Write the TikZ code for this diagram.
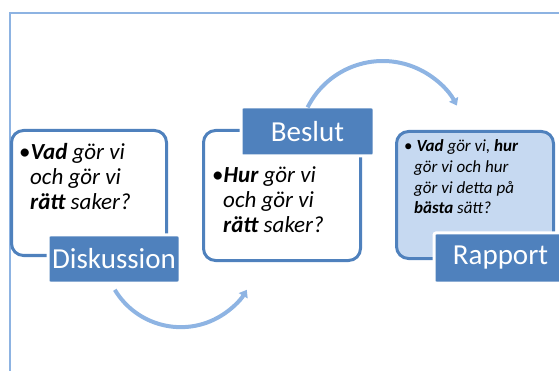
\documentclass[tikz,border=0pt]{standalone}
\usepackage{fontspec}
\setmainfont{Carlito}
\usetikzlibrary{arrows.meta}
\definecolor{dblue}{HTML}{4F81BD}
\definecolor{lblue}{HTML}{8EB4E3}
\definecolor{pfill}{HTML}{C6D9F1}
\definecolor{frameblue}{HTML}{8DB3E2}
\newcommand{\bitext}[1]{{\bfseries\itshape #1}}
\newcommand{\ittext}[1]{{\itshape #1}}
\tikzset{
  textbox/.style={draw=dblue, line width=3pt, rounded corners=12pt},
  labelbox/.style={fill=dblue, draw=white, line width=3pt, rounded corners=2pt,
    text=white, font=\fontsize{29}{32}\selectfont, inner sep=0pt},
  bodytext/.style={anchor=base west, inner sep=0pt, align=left},
  flowarrow/.style={draw=lblue, line width=4pt, -{Triangle[length=7pt,width=10pt]}},
}
\begin{document}
\begin{tikzpicture}[x=1pt,y=-1pt]
\useasboundingbox (0,0) rectangle (559,371);
% frame
\draw[frameblue, line width=1.5pt] (10,371) -- (10,13) -- (559,13);
% text boxes
\draw[textbox] (11.5,130.5) rectangle (166.5,255.5);
\draw[textbox] (203.5,130.5) rectangle (360.5,260.5);
\draw[textbox, fill=pfill] (396.5,131.5) rectangle (553.5,258.5);
% body texts (base anchor = last line)
\node[bodytext, font=\fontsize{23}{25}\selectfont] (t1) at (19,210)
  {•\bitext{Vad} \ittext{gör vi}\\\hspace{11pt}\ittext{och gör vi}\\\hspace{11pt}\bitext{rätt} \ittext{saker?}};
\node[bodytext, font=\fontsize{23}{25}\selectfont] (t2) at (212,233)
  {•\bitext{Hur} \ittext{gör vi}\\\hspace{11pt}\ittext{och gör vi}\\\hspace{11pt}\bitext{rätt} \ittext{saker?}};
\node[bodytext, font=\fontsize{17}{20.7}\selectfont] (t3) at (404,214)
  {• \bitext{Vad} \ittext{gör vi,} \bitext{hur}\\\hspace{10pt}\ittext{gör vi och hur}\\\hspace{10pt}\ittext{gör vi detta på}\\\hspace{10pt}\bitext{bästa} \ittext{sätt?}};
% labels
\node[labelbox, minimum width=132pt, minimum height=48pt] (l1) at (114,259) {Diskussion};
\node[labelbox, minimum width=133pt, minimum height=49pt] (l2) at (307.5,131.5) {Beslut};
\node[labelbox, minimum width=133pt, minimum height=50pt] (l3) at (500.5,258) {Rapport};
% arrows
\coordinate (a1s) at (114.8,289.8);
\coordinate (a2s) at (307.6,107.4);
\draw[flowarrow] (a1s) arc[start angle=149, end angle=31, radius=77];
\draw[flowarrow] (a2s) arc[start angle=206.6, end angle=332, radius=84];
\end{tikzpicture}
\end{document}
